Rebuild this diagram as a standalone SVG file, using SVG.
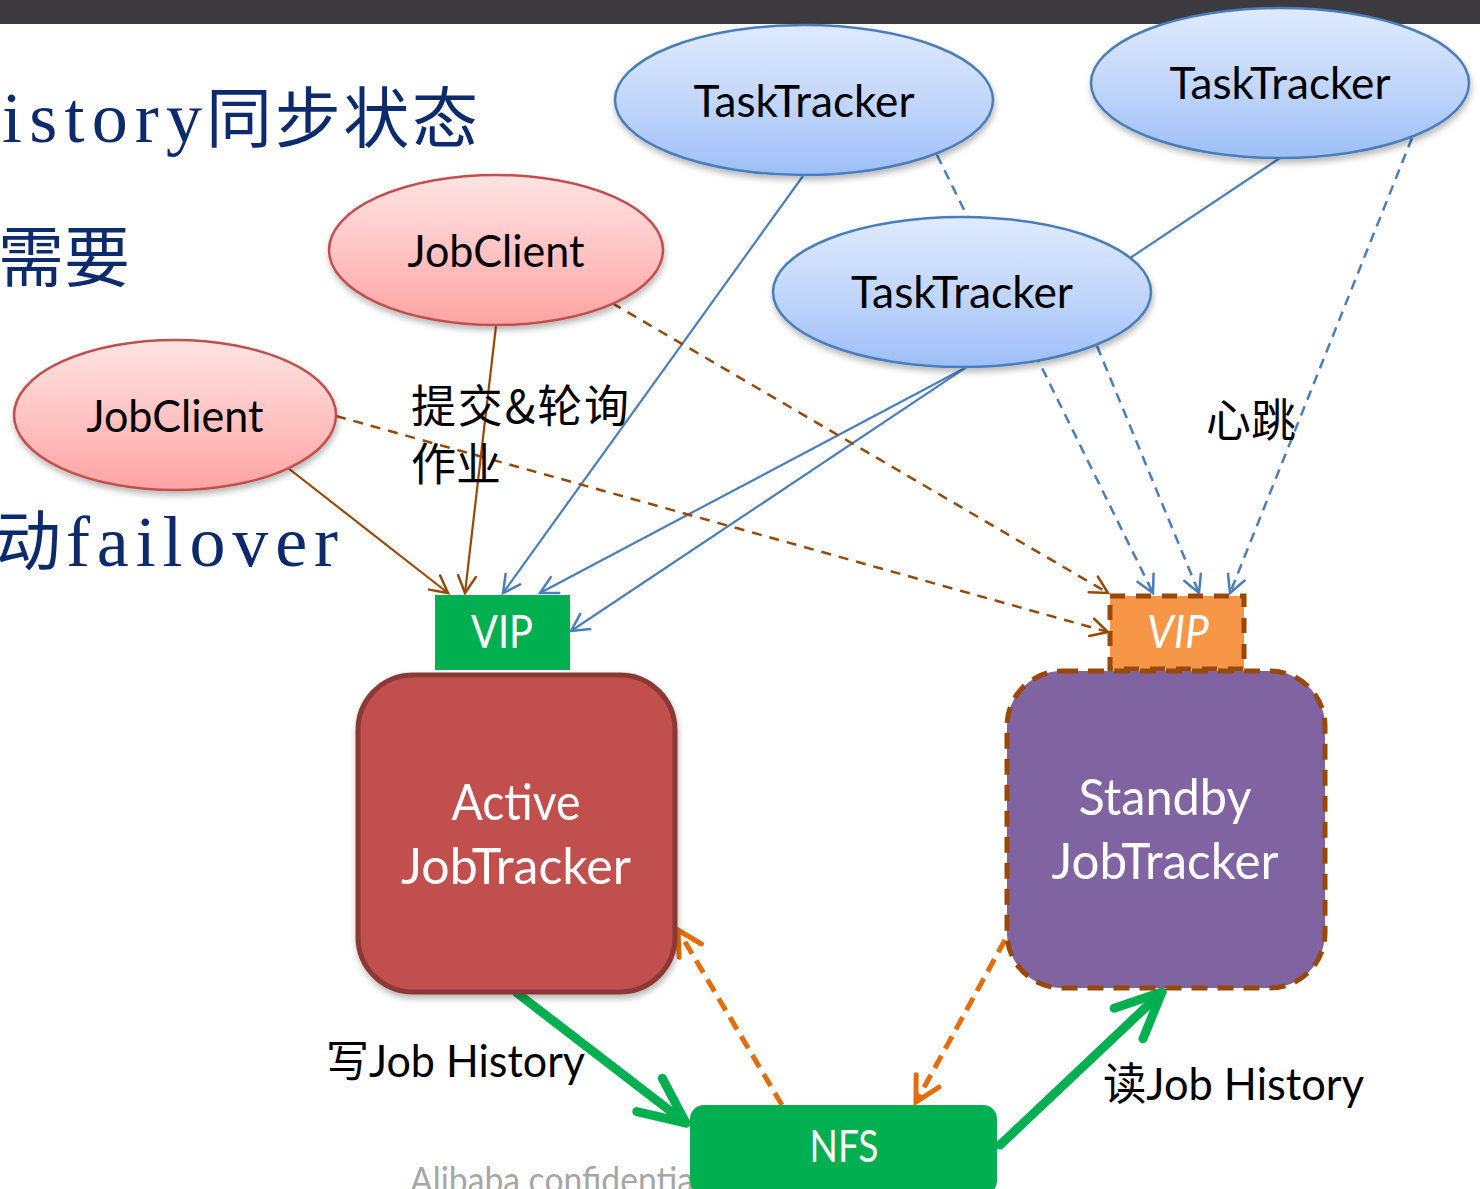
<svg xmlns="http://www.w3.org/2000/svg" width="1480" height="1189" viewBox="0 0 1480 1189">
<defs>
<linearGradient id="gBlue" x1="0" y1="0" x2="0" y2="1">
<stop offset="0" stop-color="#dfeafe"/><stop offset="0.5" stop-color="#c3d7fb"/><stop offset="1" stop-color="#9dbff8"/>
</linearGradient>
<linearGradient id="gRed" x1="0" y1="0" x2="0" y2="1">
<stop offset="0" stop-color="#ffe3e3"/><stop offset="0.5" stop-color="#ffc4c4"/><stop offset="1" stop-color="#ffa3a3"/>
</linearGradient>
<filter id="sh" x="-20%" y="-20%" width="140%" height="150%">
<feDropShadow dx="1" dy="4" stdDeviation="3" flood-color="#000" flood-opacity="0.28"/>
</filter>
<marker id="aBrown" markerUnits="userSpaceOnUse" orient="auto" overflow="visible" markerWidth="1" markerHeight="1" refX="0" refY="0">
<path d="M-17,-9 L0,0 L-17,9" fill="none" stroke="#984807" stroke-width="2.5" stroke-linecap="round"/>
</marker>
<marker id="aBlue" markerUnits="userSpaceOnUse" orient="auto" overflow="visible" markerWidth="1" markerHeight="1" refX="0" refY="0">
<path d="M-17,-9 L0,0 L-17,9" fill="none" stroke="#4a7ebb" stroke-width="2.5" stroke-linecap="round"/>
</marker>
<marker id="aOrange" markerUnits="userSpaceOnUse" orient="auto" overflow="visible" markerWidth="1" markerHeight="1" refX="0" refY="0">
<path d="M-24,-13 L0,0 L-24,13" fill="none" stroke="#e46c0a" stroke-width="5" stroke-linecap="round"/>
</marker>
<marker id="aGreen" markerUnits="userSpaceOnUse" orient="auto" overflow="visible" markerWidth="1" markerHeight="1" refX="0" refY="0">
<path d="M-46,-21 L0,0 L-46,21" fill="none" stroke="#00b050" stroke-width="9" stroke-linecap="round" stroke-linejoin="round"/>
</marker>
</defs>
<style>
.bg{fill:#3c3a3f}
.slide{font-family:"Liberation Serif","Noto Sans CJK SC",serif;font-size:72px;fill:#0c2b6c}
.cjk{font-family:"Noto Sans CJK SC",sans-serif;font-size:66px;fill:#0c2b6c}
.lbl{font-family:Lato,"Noto Sans CJK SC",sans-serif;fill:#000}
.cn{font-family:"Noto Sans CJK SC",sans-serif;font-size:45px;fill:#000}
.node{font-family:Lato,"Liberation Sans",sans-serif;fill:#000;text-anchor:middle}
.wt{font-family:Lato,"Liberation Sans",sans-serif;fill:#fff;text-anchor:middle}
.tt{fill:url(#gBlue);stroke:#4a7ebb;stroke-width:2.5}
.jc{fill:url(#gRed);stroke:#c0504d;stroke-width:2.5}
.bs{fill:none;stroke:#984807;stroke-width:2.2}
.bd{fill:none;stroke:#984807;stroke-width:2.5;stroke-dasharray:10 8}
.ls{fill:none;stroke:#4a7ebb;stroke-width:2.2}
.ld{fill:none;stroke:#4a7ebb;stroke-width:2.5;stroke-dasharray:10 7}
.od{fill:none;stroke:#e46c0a;stroke-width:5;stroke-dasharray:14 8}
.gs{fill:none;stroke:#00b050;stroke-width:9;stroke-linecap:round}
</style>
<rect x="0" y="0" width="1480" height="1189" fill="#fff"/>
<rect class="bg" x="0" y="0" width="1480" height="24"/>

<g id="slide-text">
<text class="slide" x="2" y="142" textLength="200" lengthAdjust="spacing">istory</text>
<text class="cjk" x="206" y="142" textLength="272" lengthAdjust="spacing">同步状态</text>
<text class="cjk" x="-2" y="281" textLength="132" lengthAdjust="spacing">需要</text>
<text class="cjk" x="-5" y="565">动</text>
<text class="slide" x="66" y="566" textLength="272" lengthAdjust="spacing">failover</text>
<text x="410" y="1193" font-family="Lato,'Liberation Sans',sans-serif" font-size="36" fill="#a6a6a6" textLength="292" lengthAdjust="spacingAndGlyphs">Alibaba confidential</text>
</g>

<g id="connectors">
<path class="bs" d="M288,468 L448,593" marker-end="url(#aBrown)"/>
<path class="bs" d="M496,326 L465,593" marker-end="url(#aBrown)"/>
<path class="ls" d="M803,176 L503,593" marker-end="url(#aBlue)"/>
<path class="ls" d="M963,369 L540,593" marker-end="url(#aBlue)"/>
<path class="ls" d="M1280,158 L571,631" marker-end="url(#aBlue)"/>
<path class="ld" d="M937,155 L1153,593" marker-end="url(#aBlue)"/>
<path class="ld" d="M1097,346 L1199,593" marker-end="url(#aBlue)"/>
<path class="ld" d="M1412,138 L1230,593" marker-end="url(#aBlue)"/>
<path class="bd" d="M612,303 L1108,593" marker-end="url(#aBrown)"/>
<path class="bd" d="M336,416 L1108,632" marker-end="url(#aBrown)"/>
<path class="od" d="M782,1105 L678,930" marker-end="url(#aOrange)"/>
<path class="od" d="M1005,940 L916,1102" marker-end="url(#aOrange)"/>
<path class="gs" d="M517,993 L686,1123" marker-end="url(#aGreen)"/>
<path class="gs" d="M1000,1145 L1162,992" marker-end="url(#aGreen)"/>
</g>

<g id="labels">
<text class="cn" x="411" y="423" textLength="218" lengthAdjust="spacing">提交&amp;轮询</text>
<text class="cn" x="411" y="481">作业</text>
<text class="cn" x="1206" y="437">心跳</text>
<text class="lbl" x="326" y="1077" font-size="44" textLength="259" lengthAdjust="spacingAndGlyphs">写Job History</text>
<text class="lbl" x="1103" y="1100" font-size="44" textLength="261" lengthAdjust="spacingAndGlyphs">读Job History</text>
</g>

<g id="tasktracker-1">
<ellipse class="tt" cx="804" cy="100" rx="189" ry="75" filter="url(#sh)"/>
<text class="node" x="804" y="117" font-size="45" textLength="221" lengthAdjust="spacingAndGlyphs">TaskTracker</text>
</g>
<g id="tasktracker-2">
<ellipse class="tt" cx="1280" cy="83" rx="189" ry="75" filter="url(#sh)"/>
<text class="node" x="1280" y="99" font-size="45" textLength="221" lengthAdjust="spacingAndGlyphs">TaskTracker</text>
</g>
<g id="tasktracker-3">
<ellipse class="tt" cx="962" cy="292" rx="189" ry="75" filter="url(#sh)"/>
<text class="node" x="962" y="308" font-size="45" textLength="222" lengthAdjust="spacingAndGlyphs">TaskTracker</text>
</g>
<g id="jobclient-1">
<ellipse class="jc" cx="496" cy="250" rx="167" ry="75" filter="url(#sh)"/>
<text class="node" x="496" y="267" font-size="45" textLength="177" lengthAdjust="spacingAndGlyphs">JobClient</text>
</g>
<g id="jobclient-2">
<ellipse class="jc" cx="175" cy="415" rx="161" ry="75" filter="url(#sh)"/>
<text class="node" x="175" y="432" font-size="45" textLength="177" lengthAdjust="spacingAndGlyphs">JobClient</text>
</g>

<g id="vip-active">
<rect x="435" y="595" width="135" height="75" fill="#00b050"/>
<text class="wt" x="502" y="648" font-size="46" textLength="62" lengthAdjust="spacingAndGlyphs">VIP</text>
</g>
<g id="active-jobtracker">
<rect x="358" y="675" width="317" height="317" rx="55" ry="55" fill="#c0504d" stroke="#8c3836" stroke-width="5" filter="url(#sh)"/>
<text class="wt" x="516" y="820" font-size="51" textLength="129" lengthAdjust="spacingAndGlyphs">Active</text>
<text class="wt" x="516" y="884" font-size="51" textLength="230" lengthAdjust="spacingAndGlyphs">JobTracker</text>
</g>
<g id="vip-standby">
<rect x="1110" y="596" width="134" height="73" fill="#f79646" stroke="#984807" stroke-width="5" stroke-dasharray="15 11"/>
<text class="wt" x="1178" y="648" font-size="46" font-style="italic" textLength="62" lengthAdjust="spacingAndGlyphs">VIP</text>
</g>
<g id="standby-jobtracker">
<rect x="1007" y="671" width="318" height="317" rx="55" ry="55" fill="#8064a2" stroke="#984807" stroke-width="5" stroke-dasharray="16 10"/>
<text class="wt" x="1165" y="815" font-size="51" textLength="173" lengthAdjust="spacingAndGlyphs">Standby</text>
<text class="wt" x="1165" y="879" font-size="51" textLength="227" lengthAdjust="spacingAndGlyphs">JobTracker</text>
</g>
<g id="nfs">
<rect x="690" y="1105" width="307" height="90" rx="14" ry="14" fill="#00b050"/>
<text class="wt" x="844" y="1162" font-size="44" textLength="69" lengthAdjust="spacingAndGlyphs">NFS</text>
</g>
</svg>
